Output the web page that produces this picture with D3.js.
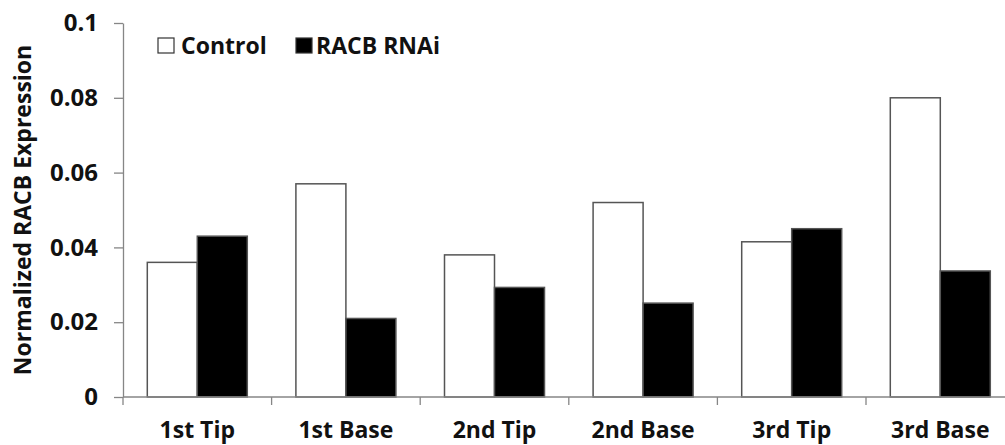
<!DOCTYPE html>
<html>
<head>
<meta charset="utf-8">
<script src="https://cdn.jsdelivr.net/npm/d3@7"></script>
<style>
  html, body { margin: 0; padding: 0; background: #fff; }
  svg { display: block; font-family: "Open Sans", Lato, sans-serif; font-weight: 700; }
</style>
</head>
<body>
<svg id="chart" width="1005" height="445"></svg>
<script>
// Tissue samples along the x axis
const categories = ["1st Tip", "1st Base", "2nd Tip", "2nd Base", "3rd Tip", "3rd Base"];
// Series
const seriesNames = ["Control", "RACB RNAi"];
const controlValues = [0.036, 0.057, 0.038, 0.052, 0.0415, 0.080];
const rnaiValues    = [0.043, 0.021, 0.0293, 0.0251, 0.045, 0.0337];
// Y axis ticks
const yTicks = [0, 0.02, 0.04, 0.06, 0.08, 0.1];
const yTickLabels = ["0", "0.02", "0.04", "0.06", "0.08", "0.1"];
const yTitle = "Normalized RACB Expression";

(function draw() {
  const svg = d3.select("#chart");
  const axisColor = "#868686";
  const textColor = "#111";

  const plotLeft = 123, plotBottom = 397, plotTop = 23;
  const bandStep = 148.6;
  const x = d3.scaleBand()
    .domain(categories)
    .range([plotLeft, plotLeft + bandStep * categories.length])
    .paddingInner(0)
    .paddingOuter(0);
  const y = d3.scaleLinear().domain([0, 0.1]).range([plotBottom, plotTop]);

  const barW = 50;
  const groupOffset = (x.bandwidth() - 2 * barW) / 2;

  const rows = categories.map((c, i) => ({ cat: c, values: [controlValues[i], rnaiValues[i]] }));

  // Bars: white = Control, black = RACB RNAi
  const g = svg.append("g");
  rows.forEach(r => {
    r.values.forEach((v, k) => {
      g.append("rect")
        .attr("x", x(r.cat) + groupOffset + k * barW)
        .attr("y", y(v))
        .attr("width", barW)
        .attr("height", y(0) - y(v))
        .attr("fill", k === 0 ? "#ffffff" : "#000000")
        .attr("stroke", "#555555")
        .attr("stroke-width", 1.5);
    });
  });

  // Y axis
  const yAxis = d3.axisLeft(y)
    .tickValues(yTicks)
    .tickFormat((d, i) => yTickLabels[i])
    .tickSizeInner(9)
    .tickSizeOuter(0)
    .tickPadding(16);
  const yg = svg.append("g").attr("transform", `translate(${plotLeft},0)`).call(yAxis);
  yg.select(".domain").attr("stroke", axisColor).attr("stroke-width", 1.3);
  yg.selectAll(".tick line").attr("stroke", axisColor).attr("stroke-width", 1.3);
  yg.selectAll(".tick text")
    .attr("fill", textColor)
    .style("font-size", "24px")
    .style("font-family", "'Open Sans', sans-serif")
    .style("font-weight", 700);
  // y-axis line continues a little below the baseline
  svg.append("line")
    .attr("x1", plotLeft).attr("x2", plotLeft)
    .attr("y1", plotBottom).attr("y2", plotBottom + 8)
    .attr("stroke", axisColor).attr("stroke-width", 1.3);

  // X axis baseline with category boundary ticks
  svg.append("line")
    .attr("x1", plotLeft).attr("x2", 1005)
    .attr("y1", plotBottom).attr("y2", plotBottom)
    .attr("stroke", axisColor).attr("stroke-width", 1.3);
  categories.forEach(c => {
    svg.append("line")
      .attr("x1", x(c) + x.bandwidth()).attr("x2", x(c) + x.bandwidth())
      .attr("y1", plotBottom).attr("y2", plotBottom + 8)
      .attr("stroke", axisColor).attr("stroke-width", 1.3);
  });
  svg.append("g").selectAll("text")
    .data(categories)
    .join("text")
    .attr("x", d => x(d) + x.bandwidth() / 2)
    .attr("y", 438)
    .attr("text-anchor", "middle")
    .attr("fill", textColor)
    .style("font-size", "23px")
    .text(d => d);

  // Y title
  svg.append("text")
    .attr("transform", `translate(31,210) rotate(-90)`)
    .attr("text-anchor", "middle")
    .attr("fill", textColor)
    .style("font-size", "23px")
    .text(yTitle);

  // Legend
  const legendItems = [
    { name: seriesNames[0], fill: "#fff", sx: 158, tx: 181 },
    { name: seriesNames[1], fill: "#000", sx: 296, tx: 316 }
  ];
  legendItems.forEach(it => {
    svg.append("rect")
      .attr("x", it.sx).attr("y", 38)
      .attr("width", 16).attr("height", 15)
      .attr("fill", it.fill)
      .attr("stroke", "#333").attr("stroke-width", 1.2);
    svg.append("text")
      .attr("x", it.tx).attr("y", 54)
      .attr("fill", textColor)
      .style("font-size", "23px")
      .text(it.name);
  });
})();
</script>
</body>
</html>
